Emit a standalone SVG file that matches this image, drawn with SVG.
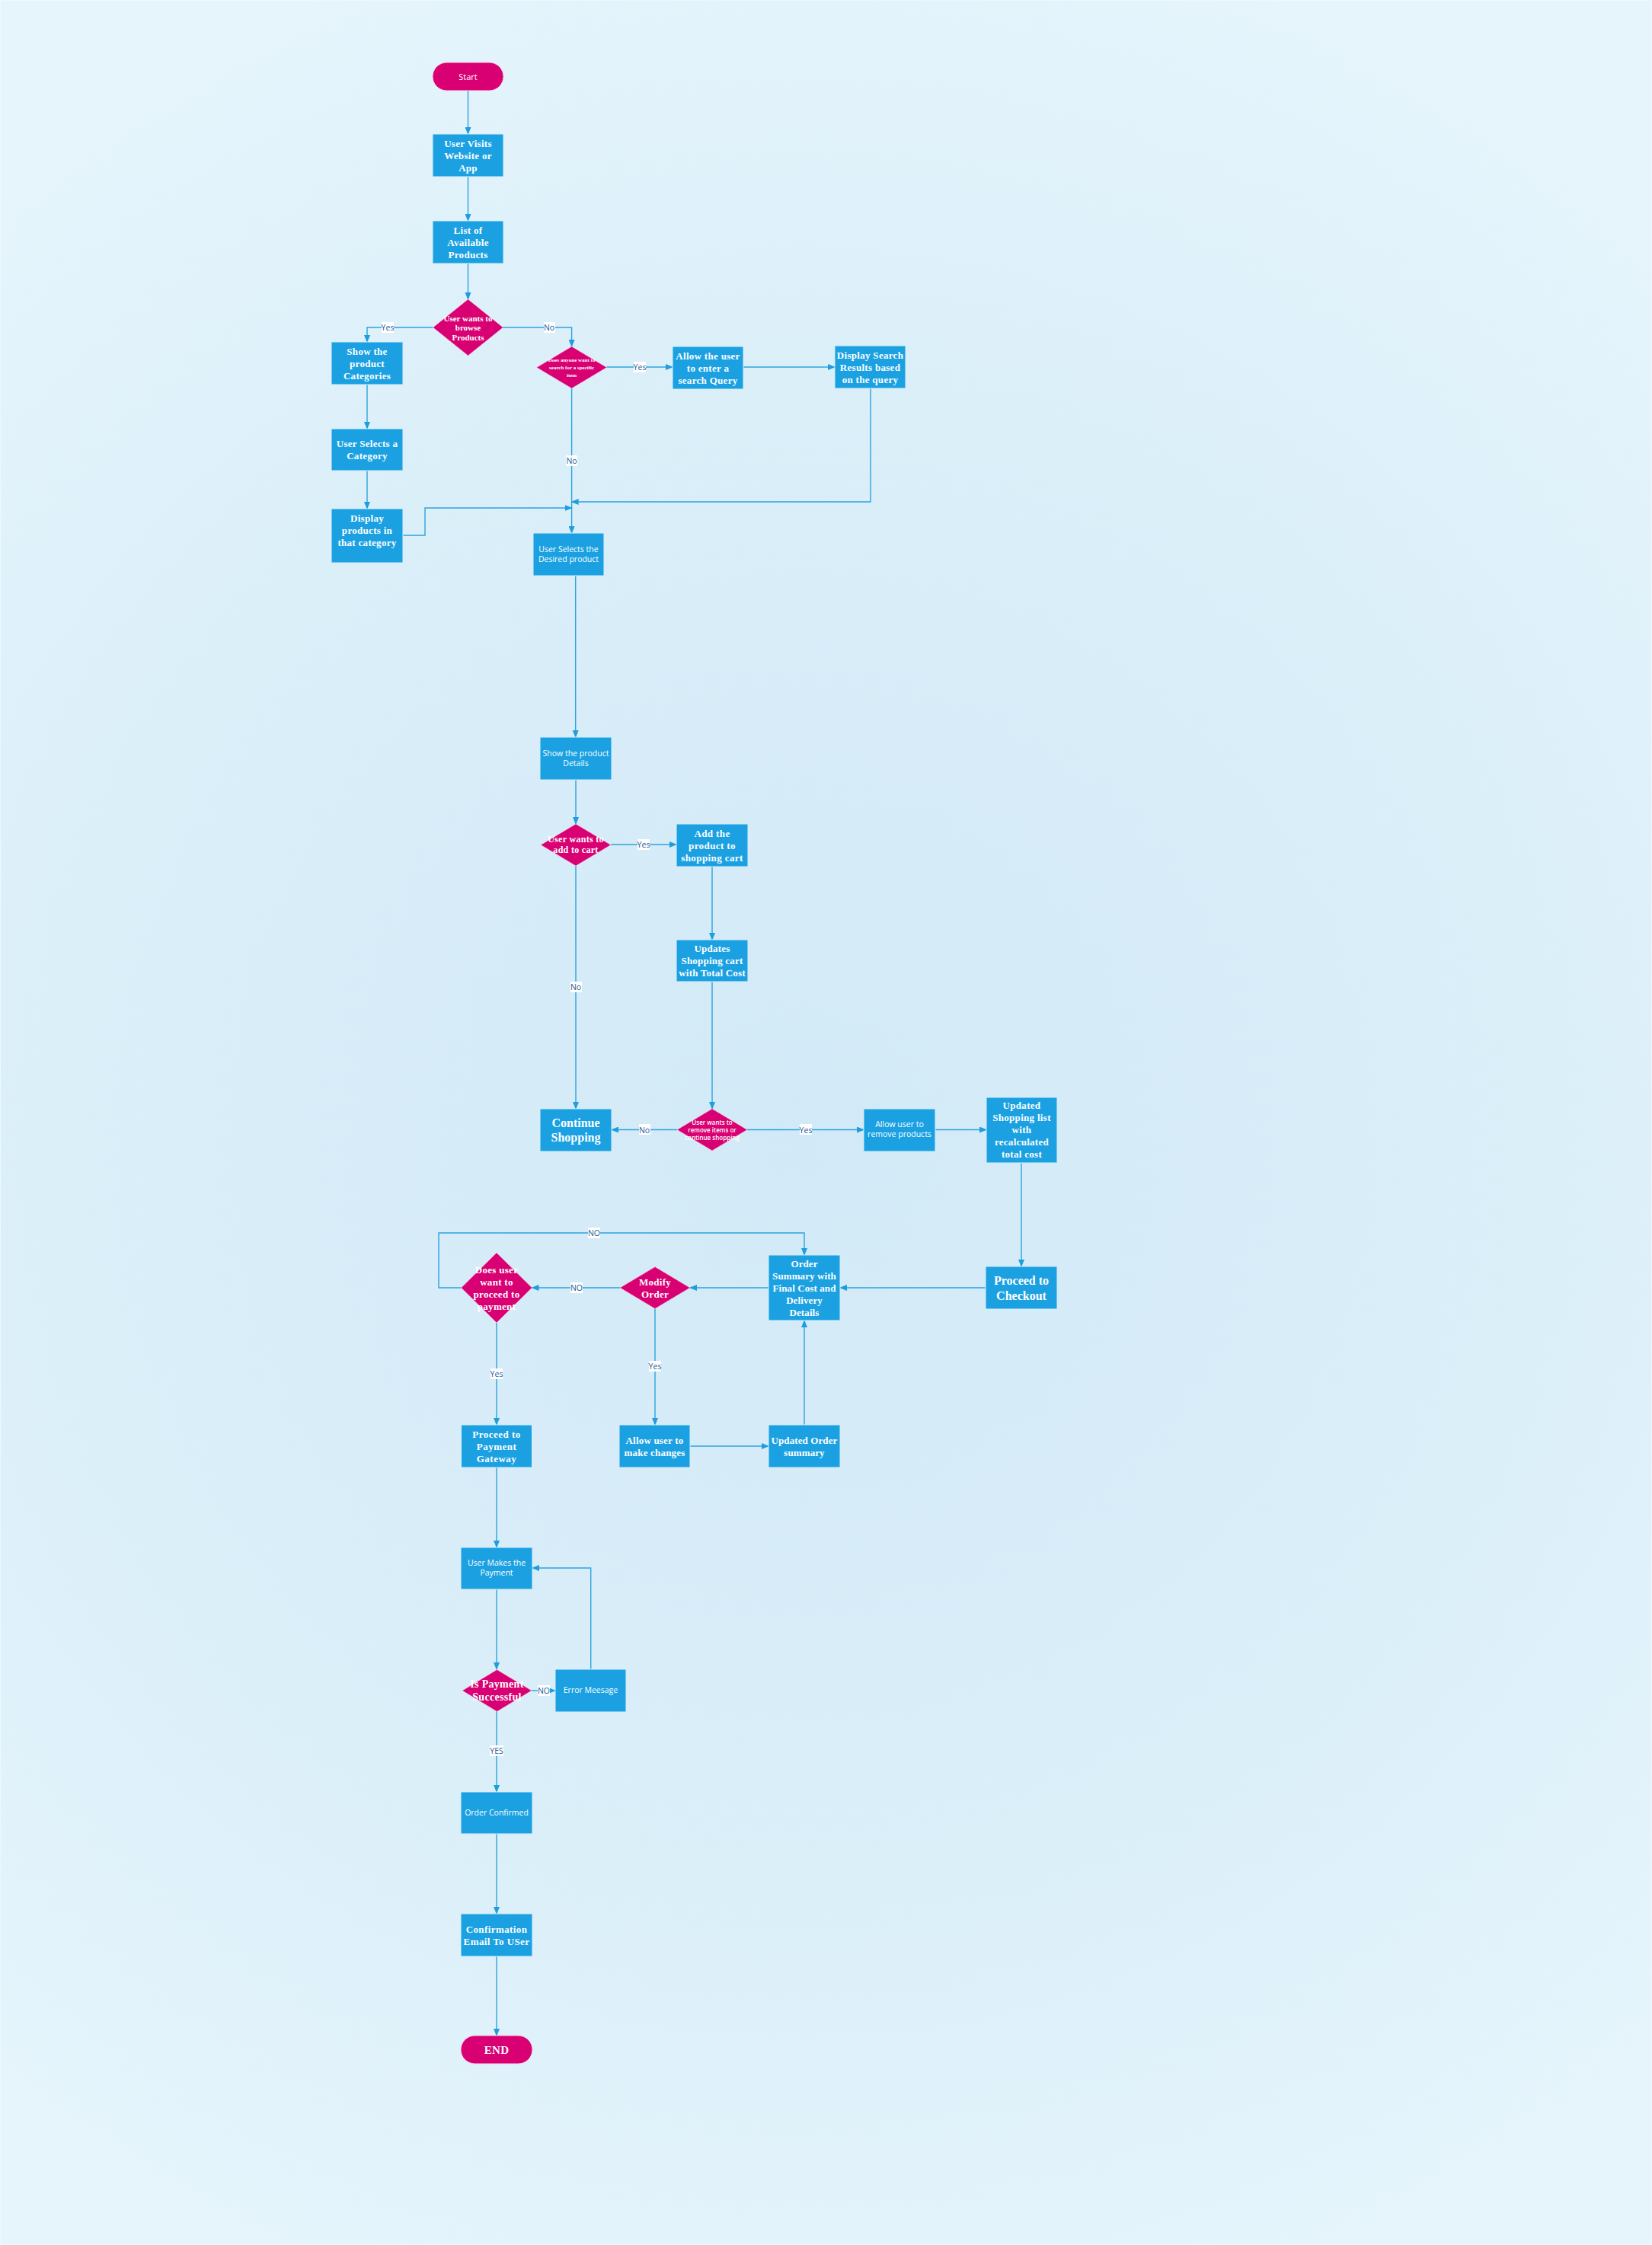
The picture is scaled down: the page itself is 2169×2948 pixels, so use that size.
<svg xmlns="http://www.w3.org/2000/svg" width="2169" height="2948" viewBox="0 0 2169 2948">
<defs>
<radialGradient id="bg" cx="1050" cy="1500" r="1650" gradientUnits="userSpaceOnUse">
<stop offset="0" stop-color="#d2e9f7"/>
<stop offset="0.6" stop-color="#dbeff9"/>
<stop offset="1" stop-color="#e6f5fc"/>
</radialGradient>
<marker id="ah" markerWidth="10" markerHeight="8" refX="9" refY="4" orient="auto" markerUnits="userSpaceOnUse">
<path d="M0,0 L10,4 L0,8 Z" fill="#1e9ede"/>
</marker>
<style>
.box{fill:#1ba1e2;stroke:#d6eefa;stroke-width:1}
.dia{fill:#d80073;stroke:#f3c9de;stroke-width:0.6}
.term{fill:#d80073;stroke:#f5d0e2;stroke-width:1}
.c{fill:none;stroke:#2ba3df;stroke-width:1.4;marker-end:url(#ah)}
.s{font-family:"Open Sans","Noto Sans",sans-serif;font-size:10.5px;fill:#ffffff;text-anchor:middle;dominant-baseline:central}
.b{font-family:"Liberation Serif","Times New Roman",serif;font-weight:bold;font-size:13px;fill:#ffffff;text-anchor:middle;dominant-baseline:central;letter-spacing:0.3px}
.lbl{font-family:"Open Sans","Noto Sans",sans-serif;font-size:10.5px;fill:#1f5c9a;text-anchor:middle;dominant-baseline:central}
.lb{fill:#ffffff}
</style>
</defs>
<rect x="0.5" y="0.5" width="2168" height="2947" fill="url(#bg)" stroke="#edf8fd" stroke-width="1"/>

<g id="connectors">
<path class="c" d="M614.5,119 V176"/>
<path class="c" d="M614.5,232 V290"/>
<path class="c" d="M614.5,346 V393"/>
<path class="c" d="M568,430 H482 V449"/>
<path class="c" d="M660,430 H750.6 V455"/>
<path class="c" d="M482,505 V563"/>
<path class="c" d="M482,618 V668"/>
<path class="c" d="M796.5,482 H883"/>
<path class="c" d="M976,482 H1096"/>
<path class="c" d="M750.6,510 V700"/>
<path class="c" d="M1143,510 V659 H750.6"/>
<path class="c" d="M529,703 H558 V667 H750.6"/>
<path class="c" d="M755.7,756 V968"/>
<path class="c" d="M756,1024 V1082"/>
<path class="c" d="M802,1109 H888"/>
<path class="c" d="M756,1137 V1456"/>
<path class="c" d="M935,1138 V1234"/>
<path class="c" d="M935,1289 V1456"/>
<path class="c" d="M889,1483.5 H803"/>
<path class="c" d="M981,1483.5 H1134"/>
<path class="c" d="M1228,1483.5 H1295"/>
<path class="c" d="M1341,1527 V1663"/>
<path class="c" d="M1294,1691 H1103"/>
<path class="c" d="M1009,1691 H906"/>
<path class="c" d="M814,1691 H698.5"/>
<path class="c" d="M605.5,1691 H576 V1619 H1056 V1648"/>
<path class="c" d="M860,1718.5 V1871"/>
<path class="c" d="M652,1737 V1871"/>
<path class="c" d="M906,1899 H1009"/>
<path class="c" d="M1056,1871 V1734"/>
<path class="c" d="M652,1927 V2032"/>
<path class="c" d="M652,2087 V2192"/>
<path class="c" d="M698,2220 H729"/>
<path class="c" d="M775.7,2192 V2059 H699"/>
<path class="c" d="M652,2247 V2353"/>
<path class="c" d="M652,2408 V2513"/>
<path class="c" d="M652,2569 V2673"/>
<g id="labels">
<rect class="lb" x="501" y="423" width="16" height="14"/><text class="lbl" x="509" y="430">Yes</text>
<rect class="lb" x="714" y="423" width="15" height="14"/><text class="lbl" x="721" y="430">No</text>
<rect class="lb" x="832" y="475" width="16" height="14"/><text class="lbl" x="840" y="482">Yes</text>
<rect class="lb" x="743" y="598" width="15" height="14"/><text class="lbl" x="750.6" y="605">No</text>
<rect class="lb" x="837" y="1102" width="16" height="14"/><text class="lbl" x="845" y="1109">Yes</text>
<rect class="lb" x="749" y="1289" width="15" height="14"/><text class="lbl" x="756" y="1296">No</text>
<rect class="lb" x="839" y="1476" width="15" height="14"/><text class="lbl" x="846" y="1483.5">No</text>
<rect class="lb" x="1050" y="1476" width="16" height="14"/><text class="lbl" x="1058" y="1483.5">Yes</text>
<rect class="lb" x="772" y="1612" width="16" height="14"/><text class="lbl" x="780" y="1619">NO</text>
<rect class="lb" x="749" y="1684" width="16" height="14"/><text class="lbl" x="757" y="1691">NO</text>
<rect class="lb" x="852" y="1787" width="16" height="14"/><text class="lbl" x="860" y="1794">Yes</text>
<rect class="lb" x="644" y="1797" width="16" height="14"/><text class="lbl" x="652" y="1804">Yes</text>
<rect class="lb" x="706" y="2213" width="16" height="14"/><text class="lbl" x="714" y="2220">NO</text>
<rect class="lb" x="643" y="2292" width="18" height="14"/><text class="lbl" x="652" y="2299">YES</text>
</g>
</g>

<g id="start"><rect class="term" x="568" y="82" width="93" height="37" rx="18.5"/><text class="s" x="614.5" y="100.5" style="font-size:11px">Start</text></g>
<g id="visit"><rect class="box" x="568" y="176" width="93" height="56"/><text class="b"><tspan x="614.5" y="188">User Visits</tspan><tspan x="614.5" y="204">Website or</tspan><tspan x="614.5" y="220">App</tspan></text></g>
<g id="list"><rect class="box" x="568" y="290" width="93" height="56"/><text class="b"><tspan x="614.5" y="302">List of</tspan><tspan x="614.5" y="318">Available</tspan><tspan x="614.5" y="334">Products</tspan></text></g>
<g id="d-browse"><polygon class="dia" points="614.5,393 660.5,430 614.5,467 568.5,430"/><text class="b" style="font-size:11px;letter-spacing:0"><tspan x="614.5" y="417.5">User wants to</tspan><tspan x="614.5" y="430">browse</tspan><tspan x="614.5" y="442.5">Products</tspan></text></g>
<g id="showcat"><rect class="box" x="435" y="449" width="94" height="56"/><text class="b"><tspan x="482" y="461">Show the</tspan><tspan x="482" y="477">product</tspan><tspan x="482" y="493">Categories</tspan></text></g>
<g id="selcat"><rect class="box" x="435" y="563" width="94" height="55"/><text class="b"><tspan x="482" y="582">User Selects a</tspan><tspan x="482" y="598">Category</tspan></text></g>
<g id="dispprod"><rect class="box" x="435" y="668" width="94" height="71"/><text class="b"><tspan x="482" y="680">Display</tspan><tspan x="482" y="696">products in</tspan><tspan x="482" y="712">that category</tspan></text></g>
<g id="d-search"><polygon class="dia" points="750.6,455 796.6,482.5 750.6,510 704.6,482.5"/><text class="b" style="font-size:7px;letter-spacing:0"><tspan x="750.6" y="472.5">Does anyone want to</tspan><tspan x="750.6" y="482.5">search for a specific</tspan><tspan x="750.6" y="492.5">item</tspan></text></g>
<g id="allowsearch"><rect class="box" x="883" y="455" width="93" height="56"/><text class="b"><tspan x="929.5" y="467">Allow the user</tspan><tspan x="929.5" y="483">to enter a</tspan><tspan x="929.5" y="499">search Query</tspan></text></g>
<g id="dispsearch"><rect class="box" x="1096" y="454" width="93" height="56"/><text class="b"><tspan x="1142.5" y="466">Display Search</tspan><tspan x="1142.5" y="482">Results based</tspan><tspan x="1142.5" y="498">on the query</tspan></text></g>
<g id="seldesired"><rect class="box" x="700" y="700" width="93" height="56"/><text class="s"><tspan x="746.5" y="721">User Selects the</tspan><tspan x="746.5" y="734">Desired product</tspan></text></g>
<g id="showdetails"><rect class="box" x="709" y="968" width="94" height="56"/><text class="s"><tspan x="756" y="989">Show the product</tspan><tspan x="756" y="1002">Details</tspan></text></g>
<g id="d-addcart"><polygon class="dia" points="756,1082 802,1109.5 756,1137 710,1109.5"/><text class="b" style="font-size:12px"><tspan x="756" y="1102">User wants to</tspan><tspan x="756" y="1116">add to cart</tspan></text></g>
<g id="addcart"><rect class="box" x="888" y="1082" width="94" height="56"/><text class="b" style="letter-spacing:0.4px"><tspan x="935" y="1094">Add the</tspan><tspan x="935" y="1110">product to</tspan><tspan x="935" y="1126">shopping cart</tspan></text></g>
<g id="updcart"><rect class="box" x="888" y="1234" width="94" height="55"/><text class="b" style="letter-spacing:0.2px"><tspan x="935" y="1245">Updates</tspan><tspan x="935" y="1261">Shopping cart</tspan><tspan x="935" y="1277">with Total Cost</tspan></text></g>
<g id="continue"><rect class="box" x="709" y="1456" width="94" height="56"/><text class="b" style="font-size:16px;letter-spacing:0"><tspan x="756" y="1474">Continue</tspan><tspan x="756" y="1493">Shopping</tspan></text></g>
<g id="d-remove"><polygon class="dia" points="935,1456 981,1483.5 935,1511 889,1483.5"/><text class="s" style="font-size:8px;font-weight:600"><tspan x="935" y="1473">User wants to</tspan><tspan x="935" y="1483">remove items or</tspan><tspan x="935" y="1492.5">continue shopping</tspan></text></g>
<g id="allowremove"><rect class="box" x="1134" y="1456" width="94" height="56"/><text class="s"><tspan x="1181" y="1476">Allow user to</tspan><tspan x="1181" y="1489">remove products</tspan></text></g>
<g id="updlist"><rect class="box" x="1295" y="1441" width="93" height="86"/><text class="b"><tspan x="1341.5" y="1451">Updated</tspan><tspan x="1341.5" y="1467">Shopping list</tspan><tspan x="1341.5" y="1483">with</tspan><tspan x="1341.5" y="1499">recalculated</tspan><tspan x="1341.5" y="1515">total cost</tspan></text></g>
<g id="checkout"><rect class="box" x="1294" y="1663" width="94" height="56"/><text class="b" style="font-size:16px;letter-spacing:0"><tspan x="1341" y="1681">Proceed to</tspan><tspan x="1341" y="1701">Checkout</tspan></text></g>
<g id="ordersum"><rect class="box" x="1009" y="1648" width="94" height="86"/><text class="b" style="letter-spacing:0.1px"><tspan x="1056" y="1659">Order</tspan><tspan x="1056" y="1675">Summary with</tspan><tspan x="1056" y="1691">Final Cost and</tspan><tspan x="1056" y="1707">Delivery</tspan><tspan x="1056" y="1723">Details</tspan></text></g>
<g id="d-modify"><polygon class="dia" points="860,1663.5 906,1691 860,1718.5 814,1691"/><text class="b"><tspan x="860" y="1683">Modify</tspan><tspan x="860" y="1699">Order</tspan></text></g>
<g id="d-proceed"><polygon class="dia" points="652,1645 698.5,1691 652,1737 605.5,1691"/><text class="b"><tspan x="652" y="1667">Does user</tspan><tspan x="652" y="1683">want to</tspan><tspan x="652" y="1699">proceed to</tspan><tspan x="652" y="1715">payment</tspan></text></g>
<g id="gateway"><rect class="box" x="605.5" y="1871" width="93" height="56"/><text class="b" style="letter-spacing:0.5px"><tspan x="652" y="1883">Proceed to</tspan><tspan x="652" y="1899">Payment</tspan><tspan x="652" y="1915">Gateway</tspan></text></g>
<g id="allowchanges"><rect class="box" x="813" y="1871" width="93" height="56"/><text class="b" style="letter-spacing:0.2px"><tspan x="859.5" y="1891">Allow user to</tspan><tspan x="859.5" y="1907">make changes</tspan></text></g>
<g id="updorder"><rect class="box" x="1009" y="1871" width="94" height="56"/><text class="b" style="letter-spacing:0.1px"><tspan x="1056" y="1891">Updated Order</tspan><tspan x="1056" y="1907">summary</tspan></text></g>
<g id="makepay"><rect class="box" x="605" y="2032" width="94" height="55"/><text class="s"><tspan x="652" y="2052">User Makes the</tspan><tspan x="652" y="2065">Payment</tspan></text></g>
<g id="d-success"><polygon class="dia" points="652.5,2192.5 698,2220 652.5,2247.5 607,2220"/><text class="b" style="font-size:14px;letter-spacing:0.3px"><tspan x="652.5" y="2211">Is Payment</tspan><tspan x="652.5" y="2228">Successful</tspan></text></g>
<g id="error"><rect class="box" x="729" y="2192" width="93" height="56"/><text class="s" x="775.5" y="2219">Error Meesage</text></g>
<g id="confirmed"><rect class="box" x="605" y="2353" width="94" height="55"/><text class="s" x="652" y="2380">Order Confirmed</text></g>
<g id="email"><rect class="box" x="605" y="2513" width="94" height="56"/><text class="b" style="letter-spacing:0.4px"><tspan x="652" y="2533">Confirmation</tspan><tspan x="652" y="2549">Email To USer</tspan></text></g>
<g id="end"><rect class="term" x="605" y="2673" width="94" height="37" rx="18.5"/><text class="b" x="652" y="2692" style="font-size:15px">END</text></g>
</svg>
